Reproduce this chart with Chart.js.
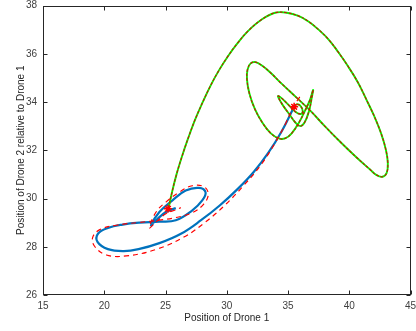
<!DOCTYPE html>
<html>
<head>
<meta charset="utf-8">
<script src="https://cdn.jsdelivr.net/npm/chart.js@4.4.1/dist/chart.umd.min.js"></script>
<style>
html, body { margin: 0; padding: 0; background: #fff; overflow: hidden; }
</style>
</head>
<body>
<canvas id="plot" width="416" height="331"></canvas>
<script>
// axis ticks
var xTicks = [15, 20, 25, 30, 35, 40, 45];
var yTicks = [26, 28, 30, 32, 34, 36, 38];

// drone 2 path (green, red dashed on top)
var greenX = [25.25, 25.55, 25.9, 26.35, 26.85, 27.4, 28.0, 28.65, 29.35, 30.1, 30.9, 31.75, 32.8, 33.95, 34.9, 35.85, 36.7, 37.45, 38.3, 39.1, 39.9, 40.7, 41.4, 42.05, 42.6, 43.0, 43.15, 43.05, 42.7, 42.2, 41.7, 40.6, 39.34, 38.0, 36.8, 35.7, 34.5, 33.56, 32.9, 32.35, 31.95, 31.7, 31.65, 31.85, 32.3, 32.9, 33.6, 34.3, 34.8, 35.3, 35.9, 36.4, 36.8, 37.05, 36.95, 36.7, 36.35, 36.0, 35.6, 35.1, 34.6, 34.25, 34.2, 34.5, 35.0, 35.6, 36.05, 36.2, 36.0, 35.7, 35.5];
var greenY = [29.6, 30.3, 31.0, 31.75, 32.5, 33.25, 33.95, 34.65, 35.3, 35.9, 36.45, 36.95, 37.4, 37.7, 37.7, 37.57, 37.33, 37.02, 36.6, 36.07, 35.48, 34.82, 34.1, 33.4, 32.7, 32.0, 31.45, 31.05, 30.9, 30.98, 31.2, 31.7, 32.31, 33.0, 33.65, 34.18, 34.75, 35.22, 35.5, 35.65, 35.6, 35.35, 34.95, 34.35, 33.7, 33.15, 32.7, 32.48, 32.5, 32.7, 33.15, 33.65, 34.1, 34.5, 34.2, 33.6, 33.15, 33.0, 33.15, 33.5, 33.85, 34.15, 34.25, 34.15, 33.9, 33.6, 33.5, 33.62, 33.85, 33.9, 33.8];

// drone 1 path (blue)
var blueX = [35.42, 34.5, 33.4, 32.2, 30.9, 29.4, 27.9, 26.3, 24.5, 22.8, 21.6, 20.3, 19.45, 19.5, 20.3, 21.5, 22.9, 24.5, 25.84, 27.19, 28.0, 28.27, 27.73, 26.65, 25.57, 24.5, 23.82, 24.23, 25.03, 25.84];
var blueY = [33.72, 32.8, 31.9, 31.1, 30.4, 29.7, 29.1, 28.55, 28.15, 27.9, 27.82, 27.9, 28.2, 28.55, 28.78, 28.92, 29.0, 29.04, 29.1, 29.51, 29.92, 30.26, 30.44, 30.33, 29.92, 29.44, 28.89, 29.1, 29.44, 29.6];

// drone 1 reference path (red dashed)
var redX = [35.96, 35.42, 34.8, 34.0, 32.8, 31.4, 29.8, 28.2, 26.5, 24.3, 21.8, 20.18, 19.24, 19.05, 19.64, 20.99, 22.88, 24.5, 25.84, 27.19, 28.14, 28.49, 28.14, 27.19, 26.11, 25.03, 24.23, 23.69, 24.23, 25.03, 25.84, 26.25];
var redY = [34.21, 33.78, 33.1, 32.35, 31.4, 30.55, 29.7, 29.0, 28.4, 27.9, 27.62, 27.66, 28.0, 28.38, 28.71, 28.89, 29.01, 29.1, 29.21, 29.41, 29.78, 30.19, 30.49, 30.53, 30.26, 29.85, 29.44, 28.79, 29.03, 29.37, 29.53, 29.62];

// end markers
var markX = [25.2, 35.5];
var markY = [29.57, 33.8];

function toPoints(xs, ys) {
    var pts = [];
    for (var i = 0; i < xs.length; i++) {
        pts.push({x: xs[i], y: ys[i]});
    }
    return pts;
}

// box round the plot with inward ticks on all four sides
var boxPlugin = {
    id: 'box',
    afterDraw: function(chart) {
        var ctx = chart.ctx;
        var a = chart.chartArea;
        var sx = chart.scales.x;
        var sy = chart.scales.y;
        var l = Math.round(a.left) + 0.5, r = Math.round(a.right) - 0.5;
        var t = Math.round(a.top) + 0.5, b = Math.round(a.bottom) - 0.5;
        ctx.save();
        ctx.strokeStyle = '#262626';
        ctx.lineWidth = 1;
        ctx.strokeRect(l, t, r - l, b - t);
        ctx.beginPath();
        for (var i = 0; i < xTicks.length; i++) {
            var px = Math.round(sx.getPixelForValue(xTicks[i])) + 0.5;
            ctx.moveTo(px, b); ctx.lineTo(px, b - 4);
            ctx.moveTo(px, t); ctx.lineTo(px, t + 4);
        }
        for (var j = 0; j < yTicks.length; j++) {
            var py = Math.round(sy.getPixelForValue(yTicks[j])) + 0.5;
            ctx.moveTo(l, py); ctx.lineTo(l + 4, py);
            ctx.moveTo(r, py); ctx.lineTo(r - 4, py);
        }
        ctx.stroke();
        ctx.restore();
    }
};

var ctx = document.getElementById('plot').getContext('2d');

var chart = new Chart(ctx, {
    type: 'scatter',
    data: {
        datasets: [
            {
                data: toPoints(markX, markY),
                showLine: false,
                pointStyle: 'star',
                pointRadius: 4,
                borderColor: 'rgb(255, 0, 0)',
                borderWidth: 1.5,
                order: 0
            },
            {
                data: toPoints(greenX, greenY),
                showLine: true,
                borderColor: 'rgb(190, 30, 0)',
                borderWidth: 1.2,
                borderDash: [3, 1.5],
                tension: 0.4,
                pointRadius: 0,
                order: 1
            },
            {
                data: toPoints(redX, redY),
                showLine: true,
                borderColor: 'rgb(255, 0, 0)',
                borderWidth: 1.2,
                borderDash: [5, 4],
                tension: 0.4,
                pointRadius: 0,
                order: 2
            },
            {
                data: toPoints(greenX, greenY),
                showLine: true,
                borderColor: 'rgb(0, 255, 0)',
                borderWidth: 1.9,
                tension: 0.4,
                pointRadius: 0,
                order: 3
            },
            {
                data: toPoints(blueX, blueY),
                showLine: true,
                borderColor: 'rgb(0, 114, 189)',
                borderWidth: 2.2,
                tension: 0.4,
                pointRadius: 0,
                order: 4
            }
        ]
    },
    options: {
        responsive: false,
        animation: false,
        devicePixelRatio: 1,
        layout: { padding: { top: 3, right: 3, left: 0, bottom: 0 } },
        plugins: {
            legend: { display: false },
            tooltip: { enabled: false }
        },
        scales: {
            x: {
                type: 'linear',
                min: 15,
                max: 45,
                grid: { display: false, drawTicks: false },
                border: { display: false },
                ticks: {
                    stepSize: 5,
                    padding: 5,
                    color: '#404040',
                    font: { family: 'Liberation Sans, Arial, sans-serif', size: 10 }
                },
                title: {
                    display: true,
                    text: 'Position of Drone 1',
                    color: '#262626',
                    padding: { top: 0, bottom: 7 },
                    font: { family: 'Liberation Sans, Arial, sans-serif', size: 10 }
                },
                afterFit: function(scale) {
                    scale.height = 36;
                    scale.paddingLeft = 0;
                    scale.paddingRight = 0;
                }
            },
            y: {
                type: 'linear',
                min: 26,
                max: 38,
                grid: { display: false, drawTicks: false },
                border: { display: false },
                ticks: {
                    stepSize: 2,
                    padding: 6,
                    color: '#404040',
                    font: { family: 'Liberation Sans, Arial, sans-serif', size: 10 }
                },
                title: {
                    display: true,
                    text: 'Position of Drone 2 relative to Drone 1',
                    color: '#262626',
                    padding: { top: 15, bottom: 0 },
                    font: { family: 'Liberation Sans, Arial, sans-serif', size: 10 }
                },
                afterFit: function(scale) {
                    scale.width = 43;
                    scale.paddingTop = 0;
                    scale.paddingBottom = 0;
                }
            }
        }
    },
    plugins: [boxPlugin]
});
</script>
</body>
</html>
